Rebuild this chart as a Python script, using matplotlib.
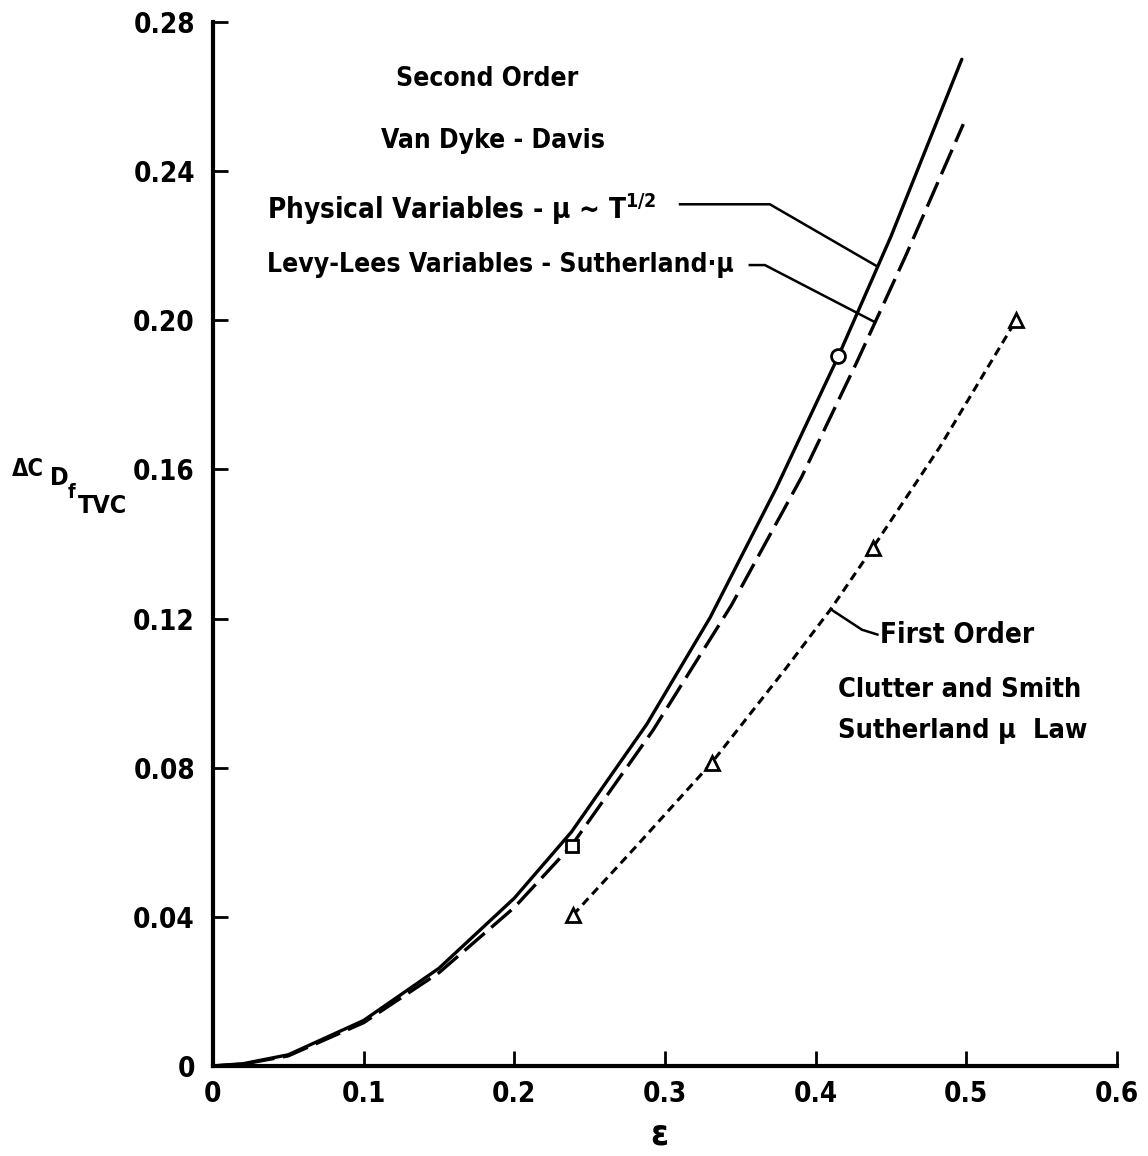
import matplotlib
matplotlib.use('Agg')
import matplotlib.pyplot as plt
from matplotlib import font_manager as fm

# pick a condensed sans if we have one
names = set(f.name for f in fm.fontManager.ttflist)
FONT = 'Liberation Sans Narrow' if 'Liberation Sans Narrow' in names else 'DejaVu Sans'
plt.rcParams['font.family'] = [FONT, 'DejaVu Sans']
plt.rcParams['font.stretch'] = 'condensed'
plt.rcParams['mathtext.fontset'] = 'custom'
plt.rcParams['mathtext.rm'] = FONT + ':bold'
plt.rcParams['mathtext.it'] = FONT + ':bold'
plt.rcParams['mathtext.bf'] = FONT + ':bold'

# second order, physical variables, mu ~ T^1/2 (solid)
phys_eps = [0.0, 0.02, 0.05, 0.1, 0.15, 0.2, 0.238, 0.288, 0.33, 0.374, 0.415, 0.45, 0.497]
phys_cd = [0.0, 0.0006, 0.0030, 0.0122, 0.0262, 0.0450, 0.0628, 0.0917, 0.1203, 0.1551, 0.1903, 0.2225, 0.2700]
phys_mark_eps = [0.415]
phys_mark_cd = [0.1903]

# second order, Levy-Lees variables, Sutherland mu (long dash)
levy_eps = [0.0, 0.02, 0.05, 0.1, 0.15, 0.2, 0.238, 0.292, 0.344, 0.3905, 0.427, 0.46, 0.498]
levy_cd = [0.0, 0.0005, 0.0027, 0.0116, 0.0250, 0.0425, 0.0591, 0.0900, 0.1235, 0.1578, 0.1885, 0.2175, 0.2526]
levy_mark_eps = [0.238]
levy_mark_cd = [0.0591]

# first order, Clutter and Smith (short dash)
first_eps = [0.239, 0.28, 0.331, 0.38, 0.41, 0.438, 0.4824, 0.533]
first_cd = [0.0405, 0.0585, 0.0813, 0.1065, 0.1225, 0.139, 0.166, 0.200]
first_mark_eps = [0.239, 0.331, 0.438, 0.533]
first_mark_cd = [0.0405, 0.0813, 0.139, 0.200]

# leader lines for the labels
phys_lead_x = [0.31, 0.3696, 0.4406]
phys_lead_y = [0.2311, 0.2311, 0.2145]
levy_lead_x = [0.3563, 0.3663, 0.4393]
levy_lead_y = [0.2148, 0.2148, 0.1995]
first_lead_x = [0.41, 0.4307, 0.441]
first_lead_y = [0.1225, 0.117, 0.1157]

xticks = [0, 0.1, 0.2, 0.3, 0.4, 0.5, 0.6]
xticklabels = ['0', '0.1', '0.2', '0.3', '0.4', '0.5', '0.6']
yticks = [0, 0.04, 0.08, 0.12, 0.16, 0.20, 0.24, 0.28]
yticklabels = ['0', '0.04', '0.08', '0.12', '0.16', '0.20', '0.24', '0.28']

W, H = 1148, 1156
fig = plt.figure(figsize=(W / 100, H / 100), dpi=100)
ax = fig.add_axes([0.1855, 0.0779, 0.7875, 0.9031])

ax.plot(phys_eps, phys_cd, color='k', lw=2.4, solid_capstyle='round')
ax.plot(levy_eps, levy_cd, color='k', lw=2.4, dashes=(8, 2.6))
ax.plot(first_eps, first_cd, color='k', lw=2.2, dashes=(2.8, 1.8))

ax.plot(phys_mark_eps, phys_mark_cd, 'o', ms=10, mfc='white', mec='k', mew=2)
ax.plot(levy_mark_eps, levy_mark_cd, 's', ms=9, mfc='white', mec='k', mew=2)
ax.plot(first_mark_eps, first_mark_cd, '^', ms=10, mfc='white', mec='k', mew=2)

for lx, ly in [(phys_lead_x, phys_lead_y), (levy_lead_x, levy_lead_y),
               (first_lead_x, first_lead_y)]:
    ax.plot(lx, ly, color='k', lw=1.8)

tkw = dict(fontweight='bold', fontstretch='condensed', va='center')
ax.text(0.182, 0.2647, 'Second Order', ha='center', fontsize=19, **tkw)
ax.text(0.186, 0.2480, 'Van Dyke - Davis', ha='center', fontsize=19, **tkw)
ax.text(0.0358, 0.2298, r'Physical Variables - μ ~ T$^{\mathrm{1/2}}$', ha='left', fontsize=20, **tkw)
ax.text(0.0358, 0.2148, 'Levy-Lees Variables - Sutherland·μ', ha='left', fontsize=19, **tkw)
ax.text(0.443, 0.1157, 'First Order', ha='left', fontsize=20, **tkw)
ax.text(0.4147, 0.1009, 'Clutter and Smith', ha='left', fontsize=19.5, **tkw)
ax.text(0.4147, 0.0899, 'Sutherland μ  Law', ha='left', fontsize=19.5, **tkw)

ax.set_xlim(0, 0.6)
ax.set_ylim(0, 0.28)
ax.set_xticks(xticks)
ax.set_xticklabels(xticklabels)
ax.set_yticks(yticks)
ax.set_yticklabels(yticklabels)
ax.tick_params(direction='in', length=11, width=2, labelsize=20, pad=10)
for lab in ax.get_xticklabels() + ax.get_yticklabels():
    lab.set_fontweight('bold')
ax.tick_params(axis='y', pad=13)

for s in ['top', 'right']:
    ax.spines[s].set_visible(False)
for s in ['left', 'bottom']:
    ax.spines[s].set_linewidth(3)

ax.set_xlabel('ε', fontsize=26, fontweight='bold', va='center')
ax.xaxis.set_label_coords(0.494, -0.066)

# y label: Delta C_D_f_TVC, pieces stepped downward as in the original
lkw = dict(fontweight='bold', fontstretch='condensed', va='center', ha='left')
fig.text(12 / W, 1 - 469 / H, 'ΔC', fontsize=17, **lkw)
fig.text(50 / W, 1 - 478 / H, 'D', fontsize=18, **lkw)
fig.text(68 / W, 1 - 493 / H, 'f', fontsize=14, **lkw)
fig.text(78 / W, 1 - 506 / H, 'TVC', fontsize=18, **lkw)

fig.savefig('out.png', dpi=100)
